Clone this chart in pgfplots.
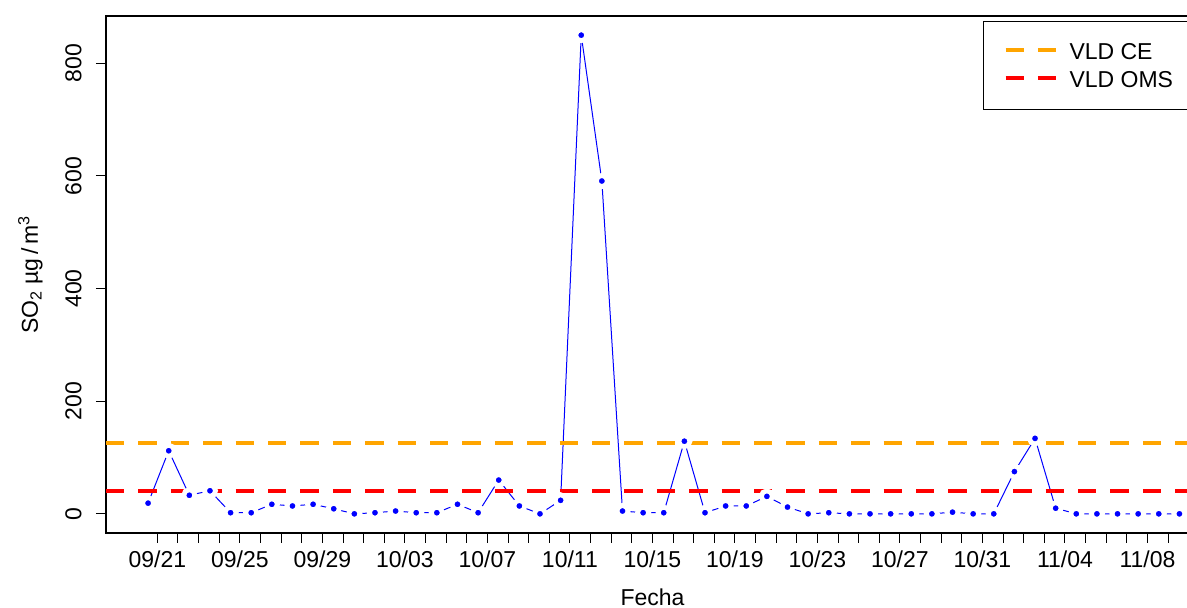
\documentclass[border=0pt]{standalone}
\usepackage{fontspec}
\setmainfont{Liberation Sans}
\usepackage{pgfplots}
\usepackage{pgfplotstable}
\pgfplotsset{compat=1.18}
\definecolor{rorange}{HTML}{FFA500}
\definecolor{rred}{HTML}{FF0000}
\definecolor{rblue}{HTML}{0000FF}

\pgfplotstableread{
x y
-0.45 19
0.55 112
1.55 33
2.55 41
3.55 2
4.55 2
5.55 17
6.55 14
7.55 17
8.55 9
9.55 0
10.55 2
11.55 5
12.55 2
13.55 2
14.55 17
15.55 2
16.55 60
17.55 14
18.55 0
19.55 24
20.55 850
21.55 591
22.55 5
23.55 2
24.55 2
25.55 129
26.55 2
27.55 14
28.55 14
29.55 31
30.55 12
31.55 0
32.55 2
33.55 0
34.55 0
35.55 0
36.55 0
37.55 0
38.55 3
39.55 0
40.55 0
41.55 75
42.55 134
43.55 10
44.55 0
45.55 0
46.55 0
47.55 0
48.55 0
49.55 0
}\sotwo

\begin{document}
\begin{tikzpicture}
\begin{axis}[
  name=ax,
  scale only axis, width=546.5pt, height=258.5pt,
  xmin=-2.49, xmax=50.5, ymin=-34, ymax=884,
  axis line style={line width=0.6pt, black},
  tick align=outside, major tick length=5pt, minor tick length=5pt,
  every tick/.style={line width=0.5pt, black},
  xtick pos=bottom, ytick pos=left,
  xtick={0,4,...,48},
  xticklabels={09/21,09/25,09/29,10/03,10/07,10/11,10/15,10/19,10/23,10/27,10/31,11/04,11/08},
  minor xtick={0,...,50},
  ytick={0,200,...,800},
  /pgf/number format/assume math mode=true,
  ticklabel style={font=\fontsize{11.5}{13}\selectfont},
  xticklabel style={anchor=north, inner sep=0pt},
  yticklabel style={rotate=90, anchor=south, inner sep=0pt},
  xticklabel shift=3.5pt,
  yticklabel shift=7pt,
  xlabel={Fecha},
  ylabel={SO\textsubscript{2} µg\,/\,m\textsuperscript{3}},
  label style={font=\fontsize{11.5}{13}\selectfont},
  xlabel style={at={([yshift=-36.5pt]axis description cs:0.5,0)}, anchor=base},
  ylabel style={at={([xshift=-34pt]axis description cs:0,0.5)}, anchor=base},
  legend style={at={(0.8024,0.9903)}, anchor=north west, draw=black, line width=0.5pt,
    inner xsep=10pt, inner ysep=10.9pt, row sep=5.75pt,
    font=\fontsize{11.5}{13}\selectfont,
    nodes={inner sep=0pt, text height=8.25pt, text depth=0pt},
    /tikz/every odd column/.append style={column sep=6pt}},
  legend cell align=left,
  legend image code/.code={\draw[#1] (0pt,0.6pt) -- (25pt,0.6pt);},
]
\addplot[draw=rblue, line width=0.5pt, mark=*, mark size=2.8pt,
  mark options={fill=rblue, draw=white, line width=2.4pt, solid}, forget plot]
  table[x=x, y=y] {\sotwo};
\addplot[rorange, line width=2pt, dash pattern=on 9.2pt off 7pt]
  coordinates {(-2.49,125) (50.5,125)};
\addlegendentry{VLD CE}
\addplot[rred, line width=2pt, dash pattern=on 9.2pt off 7pt]
  coordinates {(-2.49,40) (50.5,40)};
\addlegendentry{VLD OMS}
\end{axis}
\pgfresetboundingbox
\path[use as bounding box] ([shift={(-53pt,-37.5pt)}]ax.south west) rectangle ([shift={(540.5pt,266.5pt)}]ax.south west);
\end{tikzpicture}
\end{document}
